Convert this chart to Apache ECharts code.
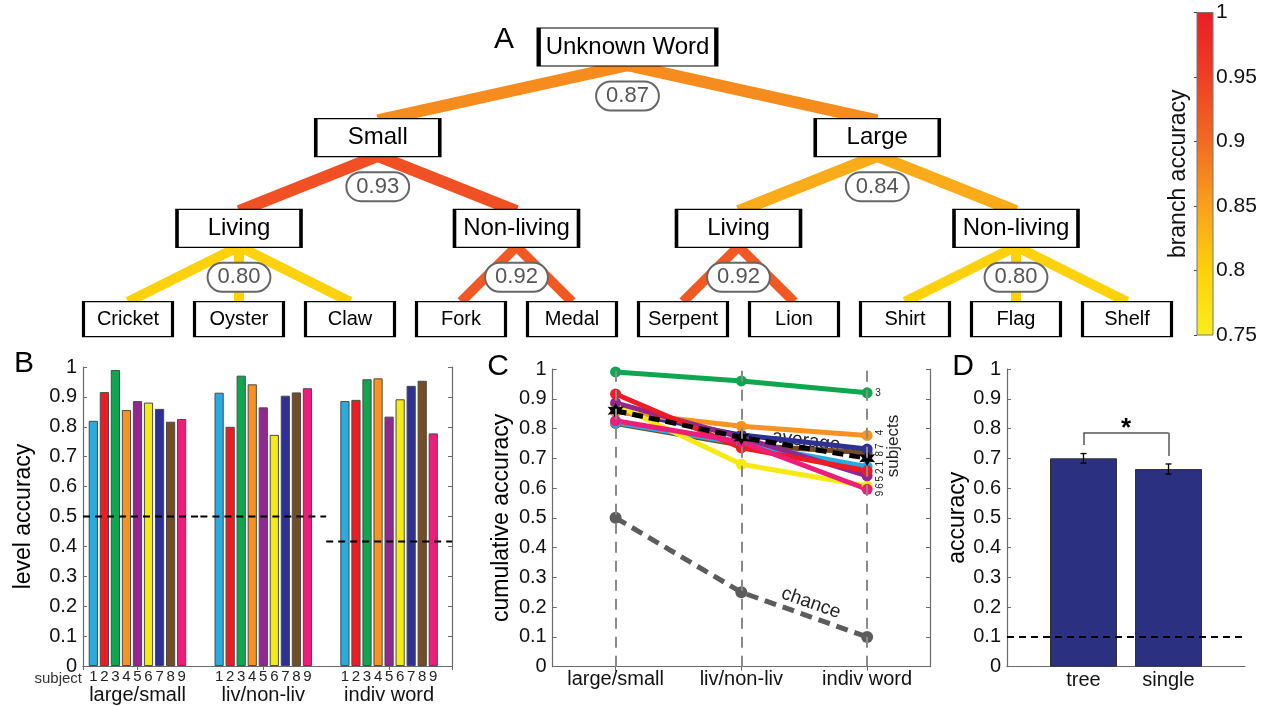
<!DOCTYPE html>
<html><head><meta charset="utf-8">
<script src="https://cdn.jsdelivr.net/npm/echarts@6/dist/echarts.min.js"></script>
<style>html,body{margin:0;padding:0;background:#fff;}#c{width:1265px;height:706px;}</style>
</head><body><div id="c"></div>
<script>
// ---------------- DATA ----------------
// Panel A: category tree
const treeNames   = ['Unknown Word','Small','Large','Living','Non-living','Living','Non-living',
                     'Cricket','Oyster','Claw','Fork','Medal','Serpent','Lion','Shirt','Flag','Shelf'];
const treeParents = [-1,0,0,1,1,2,2,3,3,3,4,4,5,5,6,6,6];
const branchAccuracy = [0.87,0.93,0.84,0.80,0.92,0.92,0.80]; // internal nodes 0..6
const colorbarRange = [0.75, 1];

// Panel B: level accuracy per subject
const levelCats = ['large/small','liv/non-liv','indiv word'];
const subjectIds = ['1','2','3','4','5','6','7','8','9'];
const levelLargeSmall = [0.820,0.916,0.990,0.856,0.886,0.881,0.860,0.817,0.826];
const levelLivNonLiv  = [0.914,0.800,0.971,0.942,0.865,0.773,0.904,0.915,0.929];
const levelIndivWord  = [0.886,0.890,0.959,0.962,0.834,0.892,0.937,0.954,0.778];
const levelChance     = [0.5,0.5,0.4167];

// Panel C: cumulative accuracy per subject
const cumLargeSmall = [0.820,0.916,0.990,0.856,0.886,0.881,0.860,0.817,0.826];
const cumLivNonLiv  = [0.750,0.735,0.960,0.808,0.770,0.680,0.778,0.745,0.755];
const cumIndivWord  = [0.672,0.658,0.920,0.777,0.641,0.607,0.731,0.719,0.596];
const cumAverage    = [0.86,0.77,0.70];
const cumChance     = [0.5,0.25,0.1];

// Panel D
const methods = ['tree','single'];
const methodAccuracy = [0.700,0.664];
const methodError    = [0.016,0.017];
const sigBracket     = [0.745,0.786,0.708]; // left foot, top, right foot
const dChance        = [0.1];

// ---------------- STYLE ----------------
const FONT = "'Liberation Sans', Arial, Helvetica, sans-serif";
const subjColors = ['#29ABE2','#ED1C24','#0FA650','#F7931E','#92278F','#F5EA14','#2E3192','#754C24','#EC1E79'];
const cmapVals = [0.75,0.8,0.85,0.9,0.95,1];
const cmapCols = ['#F9EE1D','#FDD10B','#F8A11C','#F26A22','#EE3F25','#E91E27'];
const AX = '#6a6a6a', TXT = '#111';

function hex2rgb(h){return [1,3,5].map(k=>parseInt(h.substr(k,2),16));}
function colorFor(v){
  for(let k=0;k<cmapVals.length-1;k++){
    if(v<=cmapVals[k+1]){
      const t=(v-cmapVals[k])/(cmapVals[k+1]-cmapVals[k]);
      const a=hex2rgb(cmapCols[k]), b=hex2rgb(cmapCols[k+1]);
      return 'rgb('+a.map((c,m)=>Math.round(c+(b[m]-c)*t)).join(',')+')';
    }
  }
  return cmapCols[cmapCols.length-1];
}

// ---------------- TREE LAYOUT (structural) ----------------
const n = treeNames.length;
const depth = treeParents.map(p=>{let d=0,q=p;while(q>=0){d++;q=treeParents[q];}return d;});
const kids = treeNames.map((_,i)=>treeParents.reduce((a,p,j)=>{if(p===i)a.push(j);return a;},[]));
const xPos = [];
let leafIdx = 0;
(function place(i){
  if(!kids[i].length){xPos[i]=leafIdx++;return;}
  kids[i].forEach(place);
  xPos[i]=kids[i].reduce((s,k)=>s+xPos[k],0)/kids[i].length;
})(0);
const ctx = document.createElement('canvas').getContext('2d');
function textW(t,fs){ctx.font=fs+'px '+FONT;return ctx.measureText(t).width;}

const edgeData=[];
for(let j=1;j<n;j++){
  const p=treeParents[j];
  edgeData.push({coords:[[xPos[p],depth[p]+0.2],[xPos[j],depth[j]-0.19]],
    lineStyle:{color:colorFor(branchAccuracy[p]),width:depth[p]<2?12:10,opacity:1}});
}
const nodeData = treeNames.map((name,i)=>{
  const leaf=!kids[i].length, fs=leaf?20:24;
  const w = leaf?89:Math.max(124,textW(name,fs)+14);
  return {name:name,value:[xPos[i],depth[i]],symbolSize:[w,leaf?35:38],label:{fontSize:fs}};
});
const bubbleData = branchAccuracy.map((a,i)=>({name:a.toFixed(2),value:[xPos[i],depth[i]+0.54]}));

const levelRows=[levelLargeSmall,levelLivNonLiv,levelIndivWord];
const B_XMIN=0.567, B_XMAX=3.5;
const cumRows=[cumLargeSmall,cumLivNonLiv,cumIndivWord];

function valAxis(grid,extra){return Object.assign({type:'value',gridIndex:grid,min:0,max:1,interval:0.1,
  splitLine:{show:false},axisLine:{show:true,lineStyle:{color:AX,width:1.2}},
  axisTick:{show:true,inside:true,length:4,lineStyle:{color:AX}},
  axisLabel:{show:true,color:TXT,fontSize:20,fontFamily:FONT,margin:6}},extra||{});}
function frameAxis(grid,pos){return {type:'value',gridIndex:grid,position:pos,min:0,max:1,interval:0.1,
  splitLine:{show:false},axisLine:{show:true,lineStyle:{color:AX,width:1.2}},
  axisTick:{show:true,inside:true,length:4,lineStyle:{color:AX}},axisLabel:{show:false}};}

const series=[];
// Tree edges
series.push({type:'lines',coordinateSystem:'cartesian2d',xAxisIndex:0,yAxisIndex:0,z:2,silent:true,data:edgeData});
// Tree nodes
series.push({type:'scatter',xAxisIndex:0,yAxisIndex:0,z:3,symbol:'rect',data:nodeData,silent:true,
  itemStyle:{color:'#fff',borderColor:'#000',borderWidth:2,opacity:1},
  label:{show:true,position:'inside',formatter:'{b}',color:'#000',fontFamily:FONT}});
// Accuracy bubbles
series.push({type:'scatter',xAxisIndex:0,yAxisIndex:0,z:4,symbolSize:0,data:bubbleData,silent:true,
  itemStyle:{opacity:1},
  label:{show:true,position:'inside',formatter:'{b}',color:'#555',fontSize:22,fontFamily:FONT,
    backgroundColor:'#fff',borderColor:'#666',borderWidth:2,borderRadius:14,padding:[3,9,2,9]}});
// Colorbar
const gradStops = cmapVals.map((v,k)=>({offset:(colorbarRange[1]-v)/(colorbarRange[1]-colorbarRange[0]),color:cmapCols[k]})).reverse();
series.push({type:'custom',xAxisIndex:1,yAxisIndex:1,silent:true,data:[[0,colorbarRange[0],colorbarRange[1]]],
  renderItem:function(params,api){
    const p0=api.coord([0,api.value(2)]), p1=api.coord([1,api.value(1)]);
    return {type:'rect',shape:{x:p0[0],y:p0[1],width:p1[0]-p0[0],height:p1[1]-p0[1]},
      style:{fill:new echarts.graphic.LinearGradient(0,0,0,1,gradStops),stroke:'#777',lineWidth:1}};
  }});
// Panel B bars
subjectIds.forEach((sid,s)=>{
  series.push({type:'bar',name:'S'+sid,xAxisIndex:2,yAxisIndex:3,barWidth:9.2,barGap:'20%',
    data:levelRows.map((row,g)=>[g+1,row[s]]),
    itemStyle:{color:subjColors[s],borderColor:'#4a4a4a',borderWidth:1},
    label:{show:true,position:'bottom',distance:3,formatter:sid,fontSize:15,color:'#222',fontFamily:FONT}});
});
// Panel B chance segments (one per level category)
series.push({type:'custom',xAxisIndex:2,yAxisIndex:3,z:5,silent:true,
  data:levelChance.map((c,g)=>[g+1,c]),
  renderItem:function(params,api){
    const x=api.value(0), c=api.value(1);
    const a=api.coord([Math.max(B_XMIN,x-0.5),c]), b=api.coord([Math.min(B_XMAX,x+0.5),c]);
    return {type:'line',shape:{x1:a[0],y1:a[1],x2:b[0],y2:b[1]},style:{stroke:'#000',lineWidth:2,lineDash:[7,5]}};
  }});
// Panel C lines
series.push({type:'line',name:'chance',xAxisIndex:4,yAxisIndex:5,z:1,data:cumChance,
  symbol:'circle',symbolSize:12,itemStyle:{color:'#5c5c5c'},
  lineStyle:{color:'#5c5c5c',width:5,type:[12,7]},
  markLine:{silent:true,symbol:'none',label:{show:false},lineStyle:{color:'#8a8a8a',width:2,type:[11,8]},
    data:levelCats.map(c=>({xAxis:c}))}});
const drawOrder=[7,0,6,3,5,4,1,8,2];
drawOrder.forEach(s=>{
  series.push({type:'line',name:'C'+subjectIds[s],xAxisIndex:4,yAxisIndex:5,z:3,data:cumRows.map(r=>r[s]),
    symbol:'circle',symbolSize:11,itemStyle:{color:subjColors[s]},lineStyle:{color:subjColors[s],width:5}});
});
series.push({type:'line',name:'average',xAxisIndex:4,yAxisIndex:5,z:4,data:cumAverage,
  symbol:'path://M0,-10 L2.5,-4.3 L8.7,-5 L5,0 L8.7,5 L2.5,4.3 L0,10 L-2.5,4.3 L-8.7,5 L-5,0 L-8.7,-5 L-2.5,-4.3 Z',
  symbolSize:16,itemStyle:{color:'#000'},lineStyle:{color:'#000',width:5,type:[11,6]}});
// Panel C end labels (subject numbers), stacked so they do not overlap
series.push({type:'custom',xAxisIndex:4,yAxisIndex:5,z:6,silent:true,data:[[levelCats.length-1]],
  renderItem:function(params,api){
    const last=levelCats.length-1;
    const pts=subjectIds.map((sid,s)=>({sid:sid,p:api.coord([last,cumIndivWord[s]])}));
    const top=pts.reduce((a,b)=>a.p[1]<b.p[1]?a:b);
    const rest=pts.filter(q=>q!==top).sort((a,b)=>a.p[1]-b.p[1]);
    const gap=7.4;
    const ys=[];rest.forEach((q,k)=>{ys.push(k?Math.max(q.p[1],ys[k-1]+gap):q.p[1]);});
    const shift=(ys.reduce((s,v)=>s+v,0)-rest.reduce((s,q)=>s+q.p[1],0))/ys.length;
    const children=[{type:'text',x:top.p[0]+11,y:top.p[1],style:{text:top.sid,fontSize:10,fontFamily:FONT,fill:'#222',align:'center',verticalAlign:'middle'}}];
    rest.forEach((q,k)=>children.push({type:'text',x:q.p[0]+13,y:ys[k]-shift,rotation:Math.PI/2,
      style:{text:q.sid,fontSize:10,fontFamily:FONT,fill:'#222',align:'center',verticalAlign:'middle'}}));
    return {type:'group',children:children};
  }});
// Panel D
series.push({type:'bar',xAxisIndex:6,yAxisIndex:7,barWidth:67,
  data:methods.map((m,i)=>[i+1,methodAccuracy[i]]),
  itemStyle:{color:'#2B3080',borderColor:'#333',borderWidth:1},
  markLine:{silent:true,symbol:'none',label:{show:false},z:5,
    data:[
      {yAxis:dChance[0],lineStyle:{color:'#000',width:2,type:[7,5]}},
      [{coord:[1,sigBracket[0]],lineStyle:{color:'#555',width:1.5,type:'solid'}},{coord:[1,sigBracket[1]]}],
      [{coord:[1,sigBracket[1]],lineStyle:{color:'#555',width:1.5,type:'solid'}},{coord:[2,sigBracket[1]]}],
      [{coord:[2,sigBracket[1]],lineStyle:{color:'#555',width:1.5,type:'solid'}},{coord:[2,sigBracket[2]]}]
    ]}});
series.push({type:'custom',xAxisIndex:6,yAxisIndex:7,z:6,silent:true,
  data:methods.map((m,i)=>[i+1,methodAccuracy[i],methodError[i]]),
  renderItem:function(params,api){
    const x=api.value(0),y=api.value(1),e=api.value(2);
    const t=api.coord([x,y+e]),b=api.coord([x,y-e]),cw=3,st={stroke:'#000',lineWidth:1.3};
    return {type:'group',children:[
      {type:'line',shape:{x1:t[0],y1:t[1],x2:b[0],y2:b[1]},style:st},
      {type:'line',shape:{x1:t[0]-cw,y1:t[1],x2:t[0]+cw,y2:t[1]},style:st},
      {type:'line',shape:{x1:b[0]-cw,y1:b[1],x2:b[0]+cw,y2:b[1]},style:st}]};
  }});
series.push({type:'scatter',xAxisIndex:6,yAxisIndex:7,symbolSize:0,silent:true,itemStyle:{opacity:1},
  data:[[1.5,sigBracket[1]+0.014]],
  label:{show:true,position:'inside',formatter:'*',fontSize:26,fontWeight:'bold',color:'#000',fontFamily:FONT}});

const gridBase={containLabel:false,outerBoundsMode:'none'};
const option={
  animation:false,
  backgroundColor:'#fff',
  textStyle:{fontFamily:FONT},
  grid:[
    Object.assign({left:72.5,top:1.67,width:1110,height:362.67},gridBase),
    Object.assign({left:1197,top:12.5,width:16,height:322.5},gridBase),
    Object.assign({left:83,top:367,width:369,height:299},gridBase),
    Object.assign({left:552.7,top:369,width:377.3,height:297.7},gridBase),
    Object.assign({left:1007,top:369,width:238,height:297.7},gridBase)
  ],
  xAxis:[
    {type:'value',gridIndex:0,min:-0.5,max:9.5,show:false},
    {type:'value',gridIndex:1,min:0,max:1,show:false},
    {type:'value',gridIndex:2,min:B_XMIN,max:B_XMAX,splitNumber:3,position:'bottom',
      splitLine:{show:false},axisLine:{show:true,lineStyle:{color:AX,width:1.2}},axisTick:{show:false},
      axisLabel:{show:true,color:TXT,fontSize:20,fontFamily:FONT,margin:19,
        formatter:v=>(Math.abs(v-Math.round(v))<1e-6&&levelCats[Math.round(v)-1])||''}},
    {type:'value',gridIndex:2,min:B_XMIN,max:B_XMAX,splitNumber:3,position:'top',
      splitLine:{show:false},axisLine:{show:true,lineStyle:{color:AX,width:1.2}},
      axisTick:{show:true,inside:true,length:4,lineStyle:{color:AX}},axisLabel:{show:false}},
    {type:'category',gridIndex:3,data:levelCats,position:'bottom',boundaryGap:true,
      axisLine:{show:true,lineStyle:{color:AX,width:1.2}},axisTick:{show:false},splitLine:{show:false},
      axisLabel:{show:true,color:TXT,fontSize:20,fontFamily:FONT,margin:3,interval:0}},
    {type:'category',gridIndex:3,data:levelCats,position:'top',boundaryGap:true,
      axisLine:{show:true,lineStyle:{color:AX,width:1.2}},splitLine:{show:false},
      axisTick:{show:true,inside:true,alignWithLabel:true,length:4,lineStyle:{color:AX}},axisLabel:{show:false}},
    {type:'value',gridIndex:4,min:0.1,max:2.9,splitNumber:3,
      splitLine:{show:false},axisLine:{show:true,lineStyle:{color:AX,width:1.2}},axisTick:{show:false},
      axisLabel:{show:true,color:TXT,fontSize:20,fontFamily:FONT,margin:4,
        formatter:v=>(Math.abs(v-Math.round(v))<1e-6&&methods[Math.round(v)-1])||''}}
  ],
  yAxis:[
    {type:'value',gridIndex:0,min:-0.5,max:3.5,inverse:true,show:false},
    {type:'value',gridIndex:1,min:0.75,max:1,interval:0.05,position:'right',
      splitLine:{show:false},axisLine:{show:false},
      axisTick:{show:true,inside:true,length:3,lineStyle:{color:'#444'}},
      axisLabel:{show:true,color:TXT,fontSize:21,fontFamily:FONT,margin:3}},
    {type:'value',gridIndex:1,min:0.75,max:1,interval:0.05,position:'left',
      splitLine:{show:false},axisLine:{show:false},axisTick:{show:false},axisLabel:{show:false},
      name:'branch accuracy',nameLocation:'middle',nameGap:7,nameRotate:90,
      nameTextStyle:{fontSize:23,color:'#111',fontFamily:FONT}},
    valAxis(2,{position:'left',name:'level accuracy',nameLocation:'middle',nameGap:48,nameRotate:90,
      nameTextStyle:{fontSize:23,color:'#000',fontFamily:FONT}}),
    frameAxis(2,'right'),
    valAxis(3,{position:'left',name:'cumulative accuracy',nameLocation:'middle',nameGap:40,nameRotate:90,
      nameTextStyle:{fontSize:23,color:'#000',fontFamily:FONT}}),
    frameAxis(3,'right'),
    valAxis(4,{position:'left',name:'accuracy',nameLocation:'middle',nameGap:38,nameRotate:90,
      nameTextStyle:{fontSize:23,color:'#000',fontFamily:FONT}})
  ],
  series:series,
  graphic:[
    {type:'text',x:504,y:40,style:{text:'A',fontSize:30,fontFamily:FONT,fill:'#000',align:'center',verticalAlign:'middle'}},
    {type:'text',x:24,y:364,style:{text:'B',fontSize:30,fontFamily:FONT,fill:'#000',align:'center',verticalAlign:'middle'}},
    {type:'text',x:498,y:367,style:{text:'C',fontSize:30,fontFamily:FONT,fill:'#000',align:'center',verticalAlign:'middle'}},
    {type:'text',x:963,y:367,style:{text:'D',fontSize:30,fontFamily:FONT,fill:'#000',align:'center',verticalAlign:'middle'}},
    {type:'text',x:82,y:679,style:{text:'subject',fontSize:15,fontFamily:FONT,fill:'#333',align:'right',verticalAlign:'middle'}},
    {type:'text',x:806,y:441,rotation:-0.13,style:{text:'average',fontSize:19,fontFamily:FONT,fill:'#222',align:'center',verticalAlign:'middle'}},
    {type:'text',x:811,y:603,rotation:-0.34,style:{text:'chance',fontSize:19,fontFamily:FONT,fill:'#222',align:'center',verticalAlign:'middle'}},
    {type:'text',x:893,y:446,rotation:Math.PI/2,style:{text:'subjects',fontSize:17,fontFamily:FONT,fill:'#222',align:'center',verticalAlign:'middle'}}
  ]
};
const chart=echarts.init(document.getElementById('c'),null,{renderer:'canvas',width:1265,height:706});
chart.setOption(option);
</script>
</body></html>
